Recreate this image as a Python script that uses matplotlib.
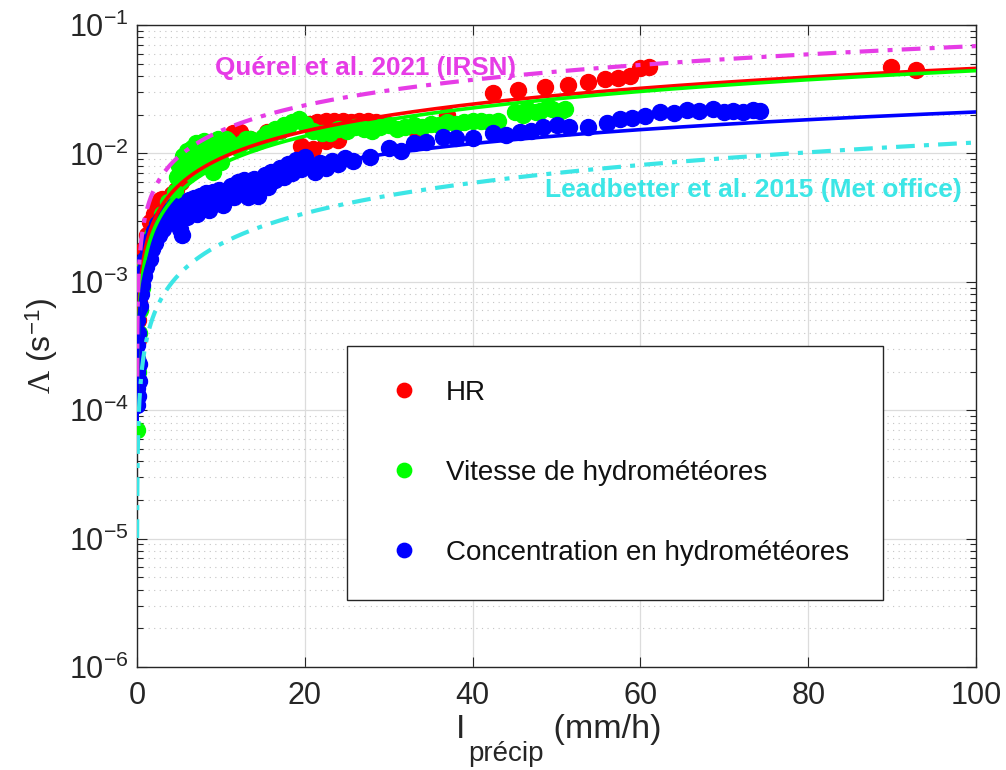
import numpy as np
import matplotlib
matplotlib.use("Agg")
import matplotlib.pyplot as plt
from matplotlib.ticker import LogLocator, LogFormatterMathtext, NullFormatter, FixedLocator

plt.rcParams['font.family'] = ['Liberation Sans', 'DejaVu Sans']
plt.rcParams['mathtext.fontset'] = 'custom'
plt.rcParams['mathtext.rm'] = 'Liberation Serif'
plt.rcParams['mathtext.it'] = 'Liberation Serif:italic'

# --- measured scavenging coefficients (I in mm/h, Lambda in 1/s) ---
hr_I = [0.02, 0.05, 0.08, 0.12, 0.2, 0.3, 0.5, 0.8, 1.2, 1.6, 2.0, 2.4, 2.7, 3.0,
        3.4, 3.8, 4.2, 4.6, 5.2, 6.0, 7.0, 8.0, 9.5, 10.5, 11.4, 12.3, 13.5,
        15.5, 17.0, 19.5, 21.0, 22.5, 24.0, 20.5, 21.5, 22.5, 23.5, 24.5, 25.5,
        26.5, 27.5, 28.5, 29.5, 33.4, 37.0, 42.4, 45.4, 48.6, 51.4, 53.8, 55.8,
        57.3, 58.8, 60.0, 61.0, 89.9, 92.9]
hr_L = [1.3e-4, 2.5e-4, 3.5e-4, 5e-4, 7e-4, 9e-4, 1.3e-3, 1.8e-3, 2.3e-3, 2.9e-3,
        3.4e-3, 4.0e-3, 4.3e-3, 4.4e-3, 4.2e-3, 4.5e-3, 4.8e-3, 5.2e-3, 6.0e-3,
        6.8e-3, 7.6e-3, 8.3e-3, 9.7e-3, 1.2e-2, 1.45e-2, 1.48e-2, 1.3e-2,
        1.48e-2, 1.5e-2, 1.15e-2, 1.08e-2, 1.25e-2, 1.27e-2, 1.68e-2, 1.75e-2,
        1.8e-2, 1.78e-2, 1.8e-2, 1.76e-2, 1.8e-2, 1.78e-2, 1.75e-2, 1.72e-2,
        1.47e-2, 2.0e-2, 2.95e-2, 3.1e-2, 3.3e-2, 3.4e-2, 3.6e-2, 3.8e-2, 3.9e-2,
        4.0e-2, 4.6e-2, 4.7e-2, 4.7e-2, 4.5e-2]

vit_I = [0.05, 0.1, 0.2, 0.35, 0.6, 0.9, 1.3, 1.8, 2.4, 3.0, 3.7, 4.5, 4.8, 5.0,
         5.2, 5.5, 5.8, 6.0, 6.3, 6.6, 6.8, 7.0, 7.3, 7.6, 7.8, 8.0, 8.3, 8.6,
         8.8, 9.0, 9.3, 9.6, 9.8, 10.0, 10.3, 10.6, 10.8, 11.5, 12.0, 12.5, 13.0,
         13.5, 14.0, 14.5, 15.0, 15.5, 16.0, 16.5, 17.0, 17.5, 18.0, 18.5, 19.3,
         20.0, 21.0, 22.0, 23.0, 24.0, 25.0, 26.0, 27.0, 28.0, 29.0, 30.0, 31.0,
         32.0, 33.0, 34.0, 35.0, 36.0, 37.0, 38.0, 39.0, 40.0, 41.0, 42.0, 43.0,
         45.0, 46.0, 46.5, 47.5, 48.0, 49.0, 49.5, 50.5, 51.0]
vit_L = [7e-5, 2e-4, 4e-4, 6e-4, 9e-4, 1.3e-3, 1.8e-3, 2.3e-3, 2.8e-3, 3.4e-3,
         4.2e-3, 5.0e-3, 6.5e-3, 8.0e-3, 7.5e-3, 9.5e-3, 8.5e-3, 1.05e-2,
         7.0e-3, 1.1e-2, 9.5e-3, 1.2e-2, 8.0e-3, 1.1e-2, 1.05e-2, 1.25e-2,
         9.0e-3, 1.2e-2, 1.1e-2, 7.2e-3, 1.0e-2, 1.3e-2, 1.2e-2, 8.5e-3, 1.1e-2,
         1.3e-2, 1.25e-2, 1.15e-2, 1.1e-2, 1.2e-2, 1.3e-2, 1.3e-2, 1.2e-2,
         1.25e-2, 1.35e-2, 1.45e-2, 1.4e-2, 1.55e-2, 1.5e-2, 1.65e-2, 1.6e-2,
         1.75e-2, 1.85e-2, 1.7e-2, 1.5e-2, 1.45e-2, 1.45e-2, 1.55e-2, 1.5e-2,
         1.6e-2, 1.55e-2, 1.5e-2, 1.6e-2, 1.65e-2, 1.55e-2, 1.6e-2, 1.65e-2,
         1.6e-2, 1.7e-2, 1.65e-2, 1.75e-2, 1.7e-2, 1.75e-2, 1.8e-2, 1.8e-2,
         1.75e-2, 1.8e-2, 2.1e-2, 2.0e-2, 2.2e-2, 2.1e-2, 2.15e-2, 2.3e-2,
         2.2e-2, 2.15e-2, 2.2e-2]

conc_I = [0.02, 0.03, 0.02, 0.05, 0.03, 0.06, 0.04, 0.08, 0.05, 0.15, 0.2, 0.25,
          0.35, 0.45, 0.6, 0.7, 0.8, 1.0, 1.1, 1.3, 1.5, 1.6, 1.8, 2.0, 2.2, 2.4,
          2.6, 2.8, 3.1, 3.3, 3.6, 3.9, 4.1, 4.4, 4.6, 5.1, 5.4, 5.6, 6.0, 6.2,
          6.5, 6.8, 7.2, 7.5, 7.9, 8.2, 8.6, 9.0, 9.4, 9.8, 10.2, 10.5, 11.2,
          11.6, 12.0, 12.4, 12.8, 13.2, 13.6, 14.0, 14.4, 14.8, 15.2, 15.6, 16.0,
          16.5, 17.0, 17.5, 18.0, 18.5, 19.0, 19.5, 20.0, 20.6, 21.2, 21.8,
          22.5, 23.2, 24.0, 24.8, 25.7, 27.8, 30.0, 31.5, 33.0, 34.5, 36.5, 38.0,
          40.0, 42.4, 44.0, 45.6, 47.0, 48.4, 50.0, 51.5, 53.8, 56.0, 57.6, 59.0,
          60.5, 62.3, 64.0, 65.5, 67.0, 68.7, 70.0, 71.0, 72.2, 73.4, 74.3]
conc_L = [1.1e-4, 1.5e-4, 2.0e-4, 2.5e-4, 3.2e-4, 4.0e-4, 5.0e-4, 6.0e-4, 7.0e-4,
          1.3e-4, 1.7e-4, 2.3e-4, 6.5e-4, 8.0e-4, 9.5e-4, 1.2e-3, 1.1e-3, 1.5e-3,
          1.3e-3, 1.8e-3, 1.5e-3, 2.1e-3, 1.8e-3, 2.5e-3, 2.0e-3, 2.8e-3, 2.3e-3,
          3.1e-3, 2.6e-3, 3.4e-3, 2.9e-3, 3.6e-3, 3.2e-3, 3.9e-3, 3.4e-3, 2.6e-3,
          2.3e-3, 4.0e-3, 3.2e-3, 4.3e-3, 3.6e-3, 4.5e-3, 3.4e-3, 4.7e-3, 3.8e-3,
          4.9e-3, 3.6e-3, 5.0e-3, 4.2e-3, 5.2e-3, 4.0e-3, 4.6e-3, 5.6e-3, 4.6e-3,
          6.0e-3, 5.0e-3, 6.2e-3, 4.6e-3, 5.4e-3, 6.3e-3, 4.7e-3, 5.8e-3, 6.8e-3,
          5.5e-3, 7.2e-3, 6.2e-3, 7.7e-3, 6.6e-3, 8.3e-3, 7.0e-3, 8.9e-3, 7.6e-3,
          9.3e-3, 8.0e-3, 7.2e-3, 8.4e-3, 7.7e-3, 8.8e-3, 8.2e-3, 9.2e-3, 8.8e-3,
          9.4e-3, 1.1e-2, 1.05e-2, 1.2e-2, 1.22e-2, 1.34e-2, 1.32e-2, 1.33e-2,
          1.44e-2, 1.4e-2, 1.47e-2, 1.5e-2, 1.6e-2, 1.67e-2, 1.62e-2, 1.6e-2,
          1.73e-2, 1.85e-2, 1.89e-2, 1.95e-2, 2.1e-2, 2.05e-2, 2.18e-2, 2.15e-2,
          2.2e-2, 2.1e-2, 2.15e-2, 2.1e-2, 2.18e-2, 2.15e-2]

# --- power-law fits  Lambda = a * I**b ---
fit_hr = (1.83e-3, 0.70)
fit_vit = (1.53e-3, 0.73)
fit_conc = (1.21e-3, 0.62)
fit_querel = (3.28e-3, 0.66)
fit_leadbetter = (3.2e-4, 0.79)

red, green, blue = '#FF0000', '#00FF00', '#0000FF'
magenta, cyan = '#E63CE6', '#3CE6E6'

fig = plt.figure(figsize=(10.06, 7.70), dpi=100)
ax = fig.add_axes([0.1362, 0.1338, 0.834, 0.8337])

ms = 11.5
ax.plot(hr_I, hr_L, 'o', color=red, ms=ms, mec=red, label='HR', zorder=3)
ax.plot(vit_I, vit_L, 'o', color=green, ms=ms, mec=green,
        label='Vitesse de hydrométéores', zorder=3)
ax.plot(conc_I, conc_L, 'o', color=blue, ms=ms, mec=blue,
        label='Concentration en hydrométéores', zorder=3)

I_fit = np.logspace(-1.9, 2, 600)
for (a, b), c in ((fit_hr, red), (fit_vit, green), (fit_conc, blue)):
    ax.plot(I_fit, a * I_fit ** b, '-', color=c, lw=2.6, zorder=4)
for (a, b), c in ((fit_querel, magenta), (fit_leadbetter, cyan)):
    ax.plot(I_fit, a * I_fit ** b, color=c, lw=3.0, zorder=4,
            dashes=(4.5, 2.2, 1.2, 2.2))

ax.text(9.3, 0.046, 'Quérel et al. 2021 (IRSN)', color=magenta,
        fontsize=18.7, fontweight='bold', va='center', ha='left', zorder=5)
ax.text(98.3, 0.0052, 'Leadbetter et al. 2015 (Met office)', color=cyan,
        fontsize=19, fontweight='bold', va='center', ha='right', zorder=5)

ax.set_yscale('log')
ax.set_xlim(0, 100)
ax.set_ylim(1e-6, 1e-1)
ax.xaxis.set_major_locator(FixedLocator([0, 20, 40, 60, 80, 100]))
ax.yaxis.set_major_locator(LogLocator(base=10, numticks=10))
ax.yaxis.set_minor_locator(LogLocator(base=10, subs=np.arange(2, 10), numticks=20))
ax.yaxis.set_major_formatter(LogFormatterMathtext())
ax.yaxis.set_minor_formatter(NullFormatter())

ax.grid(True, which='major', color='#DCDCDC', lw=0.9, ls='-', zorder=0)
ax.grid(True, which='minor', axis='y', color='#C4C4C4', lw=0.8,
        ls=(0, (1, 4)), zorder=0)
ax.set_axisbelow(True)

ax.tick_params(which='both', direction='in', top=True, right=True,
               colors='#262626', labelcolor='#262626')
ax.tick_params(which='major', length=7, width=0.8, labelsize=22)
ax.tick_params(axis='y', which='major', pad=6)
ax.tick_params(axis='x', which='major', pad=10)
ax.tick_params(which='minor', length=4, width=0.8)
for s in ax.spines.values():
    s.set_color('#262626')
    s.set_linewidth(1.0)

# x label: I with a large subscript, then the unit
fig.canvas.draw()
r = fig.canvas.get_renderer()
lab_y = -0.111
parts = [('I', 24.5, 0.0), ('précip', 20, -0.036), (' (mm/h)', 24.5, 0.0)]
texts = []
widths = []
for s, fs, dy in parts:
    t = ax.text(0, 0, s, fontsize=fs, color='#262626', transform=ax.transAxes,
                ha='left', va='baseline')
    bb = t.get_window_extent(renderer=r)
    widths.append(bb.width / ax.bbox.width)
    texts.append((t, dy))
gap = 0.004
total = sum(widths) + gap
x0 = 0.5025 - total / 2
for (t, dy), w in zip(texts, widths):
    t.set_position((x0, lab_y + dy))
    x0 += w + (gap if t.get_text() == 'I' else 0)

ax.set_ylabel(r'$\Lambda$ (s$^{\mathdefault{-1}}$)', fontsize=23,
              color='#262626', labelpad=6)

leg = ax.legend(loc='upper left', bbox_to_anchor=(0.2503, 0.4999),
                bbox_transform=ax.transAxes, fontsize=20, frameon=True,
                fancybox=False, edgecolor='#262626', framealpha=1,
                borderpad=1.22, labelspacing=1.94, handletextpad=0.68,
                handlelength=1.65, borderaxespad=0, markerscale=0.9)
leg.get_frame().set_linewidth(1.0)
for t in leg.get_texts():
    t.set_color('#111111')

fig.savefig('out.png', dpi=100, facecolor='white')
